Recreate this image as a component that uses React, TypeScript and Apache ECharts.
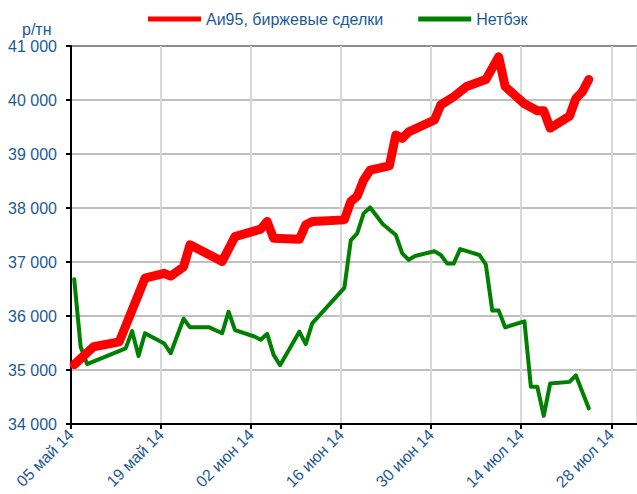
import React, { useEffect, useRef } from "react";
import * as echarts from "echarts";

const START_DATE = "2014-05-05";

const redName = "Аи95, биржевые сделки";
const redDates = [
  "2014-05-05", "2014-05-08", "2014-05-12", "2014-05-16", "2014-05-19", "2014-05-20",
  "2014-05-22", "2014-05-23", "2014-05-28", "2014-05-30", "2014-06-03", "2014-06-04",
  "2014-06-05", "2014-06-09", "2014-06-10", "2014-06-11", "2014-06-16", "2014-06-17",
  "2014-06-18", "2014-06-19", "2014-06-20", "2014-06-23", "2014-06-24", "2014-06-25",
  "2014-06-26", "2014-06-30", "2014-07-01", "2014-07-03", "2014-07-05", "2014-07-08",
  "2014-07-09", "2014-07-10", "2014-07-11", "2014-07-14", "2014-07-16", "2014-07-17",
  "2014-07-18", "2014-07-21", "2014-07-22", "2014-07-23", "2014-07-24",
];
const redValues = [
  35100, 35430, 35520, 36700, 36790, 36740,
  36910, 37320, 37010, 37470, 37610, 37750,
  37440, 37420, 37690, 37750, 37780, 38120,
  38220, 38520, 38700, 38780, 39350, 39290,
  39410, 39630, 39910, 40060, 40250, 40380,
  40590, 40800, 40250, 39930, 39800, 39800,
  39480, 39700, 40030, 40150, 40380,
];

const greenName = "Нетбэк";
const greenDates = [
  "2014-05-05", "2014-05-06", "2014-05-07", "2014-05-13", "2014-05-14", "2014-05-15",
  "2014-05-16", "2014-05-19", "2014-05-20", "2014-05-22", "2014-05-23", "2014-05-26",
  "2014-05-28", "2014-05-29", "2014-05-30", "2014-06-02", "2014-06-03", "2014-06-04",
  "2014-06-05", "2014-06-06", "2014-06-09", "2014-06-10", "2014-06-11", "2014-06-16",
  "2014-06-17", "2014-06-18", "2014-06-19", "2014-06-20", "2014-06-22", "2014-06-24",
  "2014-06-25", "2014-06-26", "2014-06-27", "2014-06-30", "2014-07-01", "2014-07-02",
  "2014-07-03", "2014-07-04", "2014-07-07", "2014-07-08", "2014-07-09", "2014-07-10",
  "2014-07-11", "2014-07-14", "2014-07-15", "2014-07-16", "2014-07-17", "2014-07-18",
  "2014-07-21", "2014-07-22", "2014-07-24",
];
const greenValues = [
  36680, 35430, 35110, 35400, 35720, 35260,
  35680, 35490, 35310, 35950, 35790, 35790,
  35680, 36080, 35740, 35620, 35560, 35670,
  35280, 35090, 35710, 35480, 35865, 36520,
  37400, 37530, 37900, 38010, 37700, 37500,
  37160, 37040, 37110, 37200, 37130, 36970,
  36970, 37240, 37130, 36950, 36100, 36100,
  35790, 35900, 34690, 34690, 34150, 34750,
  34780, 34900, 34290,
];

const xTickLabels = ["05 май 14", "19 май 14", "02 июн 14", "16 июн 14", "30 июн 14", "14 июл 14", "28 июл 14"];
const unitLabel = "р/тн";

const DAY = 86400000;
// dates are plotted in the middle of their day (date axis "between tick marks")
const dayOf = (s: string) => (Date.parse(s) - Date.parse(START_DATE)) / DAY + 0.5;

const TEXT_COLOR = "#1c5a96";
const FONT = "'Liberation Sans', Arial, sans-serif";

export default function App() {
  const ref = useRef<HTMLDivElement>(null);
  useEffect(() => {
    if (!ref.current) return;
    const chart = echarts.init(ref.current, undefined, { renderer: "svg" });
    const redData = redDates.map((d, i) => [dayOf(d), redValues[i]]);
    const greenData = greenDates.map((d, i) => [dayOf(d), greenValues[i]]);
    chart.setOption({
      animation: false,
      backgroundColor: "#ffffff",
      textStyle: { fontFamily: FONT },
      legend: {
        left: 148,
        top: 11,
        padding: 0,
        itemWidth: 53,
        itemHeight: 5,
        itemGap: 35,
        icon: "rect",
        textStyle: { color: TEXT_COLOR, fontSize: 16, fontFamily: FONT },
        data: [redName, greenName],
      },
      graphic: [
        {
          type: "text",
          left: 22,
          top: 21,
          style: { text: unitLabel, fill: TEXT_COLOR, font: `16px ${FONT}` },
        },
      ],
      grid: { left: 71, top: 46, width: 568, height: 378 },
      xAxis: {
        type: "value",
        min: 0,
        max: 88,
        interval: 14,
        axisLine: { show: true, onZero: false, lineStyle: { color: "#000", width: 2 } },
        axisTick: { show: true, length: 5, lineStyle: { color: "#000", width: 2 } },
        axisLabel: {
          rotate: 45,
          margin: 8,
          color: TEXT_COLOR,
          fontSize: 16,
          fontFamily: FONT,
          showMaxLabel: false,
          formatter: (v: number) => (v % 14 === 0 ? xTickLabels[v / 14] ?? "" : ""),
        },
        splitLine: { show: true, lineStyle: { color: "#d9d9d9", width: 2 } },
      },
      yAxis: {
        type: "value",
        min: 34000,
        max: 41000,
        interval: 1000,
        axisLine: { show: true, lineStyle: { color: "#000", width: 2 } },
        axisTick: { show: true, length: 5, lineStyle: { color: "#000", width: 2 } },
        axisLabel: {
          margin: 14,
          color: TEXT_COLOR,
          fontSize: 16,
          fontFamily: FONT,
          formatter: (v: number) => {
            const s = String(Math.round(v));
            return s.length > 3 ? s.slice(0, s.length - 3) + " " + s.slice(-3) : s;
          },
        },
        splitLine: {
          show: true,
          lineStyle: {
            color: ["#bfbfbf", "#bfbfbf", "#bfbfbf", "#bfbfbf", "#bfbfbf", "#bfbfbf", "#bfbfbf", "#8c8c8c"],
            width: 2,
          },
        },
      },
      series: [
        {
          name: redName,
          type: "line",
          data: redData,
          showSymbol: false,
          symbol: "none",
          z: 3,
          itemStyle: { color: "#ff0000" },
          lineStyle: { color: "#ff0000", width: 9, cap: "round", join: "round" },
        },
        {
          name: greenName,
          type: "line",
          data: greenData,
          showSymbol: false,
          symbol: "none",
          z: 2,
          itemStyle: { color: "#008000" },
          lineStyle: { color: "#008000", width: 4, cap: "round", join: "round" },
        },
      ],
    });
    return () => chart.dispose();
  }, []);
  return (
    <div
      ref={ref}
      style={{ position: "fixed", left: 0, top: 0, width: 637, height: 494, background: "#fff" }}
    />
  );
}
